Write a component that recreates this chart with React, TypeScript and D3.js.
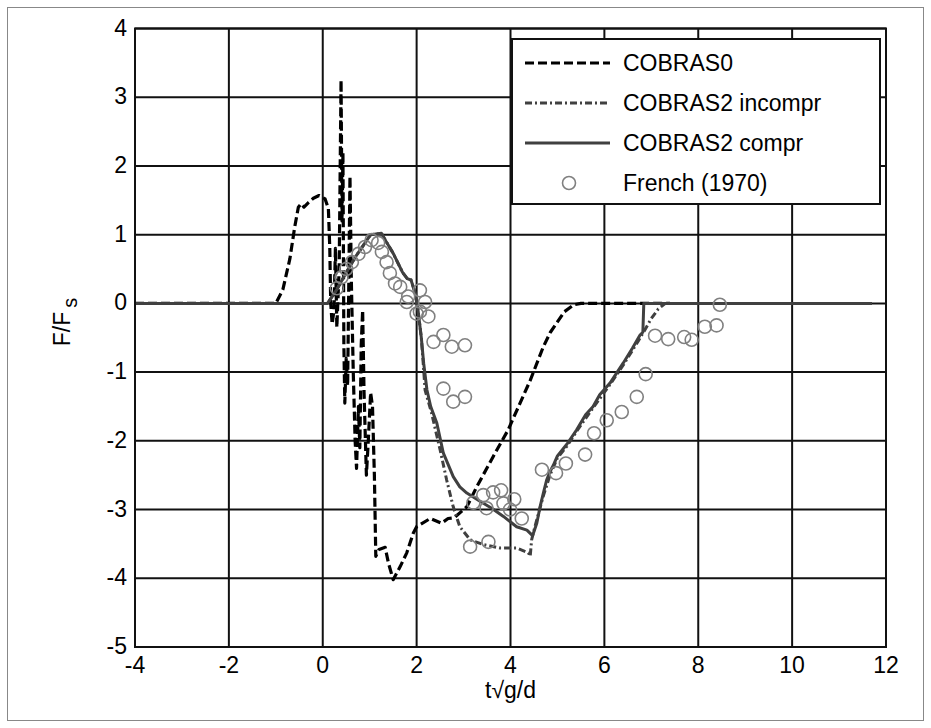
import { useEffect, useRef } from 'react';
import * as d3 from 'd3';

const xTicks = [-4, -2, 0, 2, 4, 6, 8, 10, 12];
const yTicks = [-5, -4, -3, -2, -1, 0, 1, 2, 3, 4];

// COBRAS0 (black dashed)
const cobras0: [number, number][] = [
  [-4, 0], [-1.0, 0], [-0.85, 0.2], [-0.7, 0.65], [-0.6, 1.1], [-0.52, 1.4], [-0.46, 1.45],
  [-0.4, 1.4], [-0.3, 1.47], [-0.2, 1.53], [-0.08, 1.57], [0.05, 1.52], [0.12, 1.38],
  [0.15, 0.8], [0.17, 0.0], [0.2, -0.3], [0.24, -0.1], [0.27, 0.8], [0.3, -0.35], [0.35, 0.5],
  [0.39, 3.25], [0.41, 1.2], [0.43, 2.2], [0.45, -0.6], [0.47, -1.45], [0.5, -0.8], [0.53, -1.2],
  [0.56, 0.6], [0.58, 1.85], [0.61, 0.3], [0.65, -1.0], [0.69, -2.0], [0.72, -2.4], [0.76, -1.5],
  [0.79, -2.1], [0.82, -0.6], [0.85, -0.1], [0.88, -1.3], [0.93, -2.5], [0.97, -2.0], [1.02, -1.3],
  [1.06, -1.5], [1.1, -2.5], [1.13, -3.68], [1.2, -3.58], [1.33, -3.55], [1.4, -3.78],
  [1.5, -4.02], [1.65, -3.83], [1.79, -3.63], [1.93, -3.34], [2.0, -3.25], [2.29, -3.13],
  [2.53, -3.2], [2.67, -3.13], [2.8, -3.12], [3.07, -2.96], [3.28, -2.67], [3.63, -2.23],
  [3.95, -1.84], [4.42, -1.12], [4.7, -0.63], [4.85, -0.42], [5.0, -0.27], [5.15, -0.12],
  [5.35, -0.02], [5.5, 0], [7.4, 0]
];

// COBRAS2 incompr (dash-dot)
const incompr: [number, number][] = [
  [-4, 0], [0.1, 0], [0.3, 0.2], [0.5, 0.45], [0.7, 0.68], [0.9, 0.88], [1.02, 1.0], [1.25, 1.02],
  [1.35, 0.9], [1.5, 0.73], [1.7, 0.45], [1.8, 0.36], [1.88, 0.34], [1.97, 0.15], [2.03, -0.1],
  [2.1, -0.5], [2.14, -0.87], [2.18, -1.26], [2.32, -1.6], [2.5, -2.13], [2.64, -2.57],
  [2.78, -2.96], [2.92, -3.25], [3.14, -3.44], [3.42, -3.51], [3.78, -3.56], [4.13, -3.56],
  [4.38, -3.63], [4.42, -3.68], [4.45, -3.44], [4.52, -3.25], [4.6, -3.05], [4.7, -2.8],
  [4.84, -2.5], [5.0, -2.25], [5.2, -2.08], [5.41, -1.86], [5.76, -1.52], [6.12, -1.18],
  [6.4, -0.9], [6.72, -0.55], [6.85, -0.4], [7.0, -0.22], [7.15, -0.08], [7.3, 0], [11.7, 0]
];

// COBRAS2 compr (solid)
const compr: [number, number][] = [
  [-4, 0], [0.1, 0], [0.3, 0.2], [0.5, 0.45], [0.7, 0.68], [0.9, 0.88], [1.02, 1.0], [1.25, 1.02],
  [1.35, 0.9], [1.5, 0.73], [1.7, 0.45], [1.8, 0.36], [1.88, 0.34], [1.97, 0.15], [2.03, -0.1],
  [2.1, -0.5], [2.15, -0.87], [2.22, -1.26], [2.3, -1.5], [2.43, -1.74], [2.57, -2.18],
  [2.78, -2.52], [2.92, -2.67], [3.07, -2.76], [3.35, -2.88], [3.6, -2.98], [3.85, -3.1],
  [4.13, -3.25], [4.35, -3.3], [4.47, -3.38], [4.56, -3.2], [4.63, -2.96], [4.7, -2.76],
  [4.77, -2.57], [4.84, -2.45], [4.91, -2.36], [5.0, -2.22], [5.2, -2.05], [5.41, -1.84],
  [5.6, -1.62], [5.76, -1.5], [5.9, -1.33], [6.12, -1.16], [6.4, -0.87], [6.6, -0.65],
  [6.76, -0.46], [6.82, -0.42], [6.84, 0], [11.7, 0]
];

// French (1970) measurements
const french: [number, number][] = [
  [0.3, 0.22], [0.4, 0.38], [0.5, 0.5], [0.62, 0.6], [0.76, 0.72], [0.9, 0.82], [1.04, 0.92],
  [1.18, 0.88], [1.26, 0.75], [1.36, 0.6], [1.43, 0.44], [1.54, 0.29], [1.65, 0.24], [1.79, 0.02],
  [1.82, 0.1], [2.0, -0.15], [2.07, 0.19], [2.18, 0.02], [2.07, -0.12], [2.25, -0.19],
  [2.36, -0.56], [2.57, -0.46], [2.75, -0.63], [3.03, -0.61], [2.57, -1.24], [2.78, -1.43],
  [3.03, -1.36], [3.14, -3.54], [3.53, -3.47], [3.21, -2.9], [3.42, -2.79], [3.49, -2.98],
  [3.63, -2.75], [3.8, -2.72], [3.85, -2.91], [3.99, -3.0], [4.08, -2.85], [4.24, -3.13],
  [4.67, -2.42], [4.97, -2.47], [5.18, -2.33], [5.59, -2.2], [5.78, -1.89], [6.05, -1.7],
  [6.37, -1.58], [6.69, -1.36], [6.88, -1.03], [7.08, -0.47], [7.36, -0.52], [7.7, -0.49],
  [7.86, -0.53], [8.14, -0.34], [8.39, -0.32], [8.46, -0.02]
];

const legendLabels = ['COBRAS0', 'COBRAS2 incompr', 'COBRAS2 compr', 'French (1970)'];

const FONT = 'Liberation Sans, Arial, sans-serif';
const FS = 23;

const App = () => {
  const svgRef = useRef<SVGSVGElement>(null);

  useEffect(() => {
    const width = 931;
    const height = 728;
    const margin = { top: 28.5, right: 45, bottom: 81, left: 135 };

    const svg = d3.select(svgRef.current)
      .attr('width', width)
      .attr('height', height);
    svg.selectAll('*').remove();

    svg.append('rect')
      .attr('x', 0).attr('y', 0).attr('width', width).attr('height', height)
      .attr('fill', '#fff');

    // outer figure frame
    svg.append('rect')
      .attr('x', 7.5).attr('y', 7.5).attr('width', 916).attr('height', 713)
      .attr('fill', 'none').attr('stroke', '#888').attr('stroke-width', 1);

    const xScale = d3.scaleLinear()
      .domain([-4, 12])
      .range([margin.left, width - margin.right]);

    const yScale = d3.scaleLinear()
      .domain([-5, 4])
      .range([height - margin.bottom, margin.top]);

    const [x0, x1] = xScale.range();
    const [y0, y1] = yScale.range();

    // grid
    svg.selectAll('.vgrid')
      .data(xTicks)
      .enter().append('line')
      .attr('x1', d => xScale(d)).attr('x2', d => xScale(d))
      .attr('y1', y1).attr('y2', y0)
      .attr('stroke', '#111').attr('stroke-width', 2);

    svg.selectAll('.hgrid')
      .data(yTicks)
      .enter().append('line')
      .attr('x1', x0).attr('x2', x1)
      .attr('y1', d => yScale(d)).attr('y2', d => yScale(d))
      .attr('stroke', '#111').attr('stroke-width', 2);

    const line = d3.line<[number, number]>()
      .x(d => xScale(d[0]))
      .y(d => yScale(d[1]));

    const series = [
      { data: cobras0, color: '#000', dash: '9,4', width: 3.2 },
      { data: incompr, color: '#404040', dash: '7,3,2,3', width: 3 },
      { data: compr, color: '#404040', dash: null, width: 3 }
    ];

    svg.selectAll('.series')
      .data(series)
      .enter().append('path')
      .attr('fill', 'none')
      .attr('stroke', d => d.color)
      .attr('stroke-width', d => d.width)
      .attr('stroke-dasharray', d => d.dash)
      .attr('stroke-linejoin', 'round')
      .attr('d', d => line(d.data));

    svg.selectAll('.point')
      .data(french)
      .enter().append('circle')
      .attr('cx', d => xScale(d[0]))
      .attr('cy', d => yScale(d[1]))
      .attr('r', 6.5)
      .attr('fill', 'none')
      .attr('stroke', '#808080')
      .attr('stroke-width', 1.6);

    // axes box
    svg.append('rect')
      .attr('x', x0).attr('y', y1).attr('width', x1 - x0).attr('height', y0 - y1)
      .attr('fill', 'none').attr('stroke', '#111').attr('stroke-width', 2);

    // tick labels
    svg.selectAll('.xlab')
      .data(xTicks)
      .enter().append('text')
      .attr('x', d => xScale(d))
      .attr('y', y0 + 26)
      .attr('text-anchor', 'middle')
      .attr('font-family', FONT)
      .attr('font-size', FS)
      .text(d => d);

    svg.selectAll('.ylab')
      .data(yTicks)
      .enter().append('text')
      .attr('x', x0 - 8)
      .attr('y', d => yScale(d) + 7)
      .attr('text-anchor', 'end')
      .attr('font-family', FONT)
      .attr('font-size', FS)
      .text(d => d);

    // axis titles
    svg.append('text')
      .attr('x', (x0 + x1) / 2)
      .attr('y', 698)
      .attr('text-anchor', 'middle')
      .attr('font-family', FONT)
      .attr('font-size', FS)
      .text('t√g/d');

    const yl = svg.append('text')
      .attr('transform', 'translate(70,322) rotate(-90)')
      .attr('text-anchor', 'middle')
      .attr('font-family', FONT)
      .attr('font-size', FS);
    yl.append('tspan').text('F/F');
    yl.append('tspan').attr('dx', 4).attr('dy', 7).attr('font-size', 20).text('s');

    // legend
    const lg = svg.append('g');
    lg.append('rect')
      .attr('x', 512).attr('y', 39).attr('width', 368).attr('height', 165)
      .attr('fill', '#fff').attr('stroke', '#111').attr('stroke-width', 2);

    const rowY = (i: number) => 63 + i * 40;

    series.forEach((s, i) => {
      lg.append('line')
        .attr('x1', 525).attr('x2', 610)
        .attr('y1', rowY(i)).attr('y2', rowY(i))
        .attr('stroke', s.color)
        .attr('stroke-width', s.width)
        .attr('stroke-dasharray', s.dash);
    });

    lg.append('circle')
      .attr('cx', 569).attr('cy', rowY(3))
      .attr('r', 6.5)
      .attr('fill', 'none').attr('stroke', '#808080').attr('stroke-width', 1.6);

    lg.selectAll('.ltext')
      .data(legendLabels)
      .enter().append('text')
      .attr('x', 623)
      .attr('y', (_, i) => rowY(i) + 8)
      .attr('font-family', FONT)
      .attr('font-size', FS)
      .text(d => d);
  }, []);

  return (
    <div>
      <svg ref={svgRef} style={{ position: 'absolute', left: 0, top: 0 }} />
    </div>
  );
};

export default App;
